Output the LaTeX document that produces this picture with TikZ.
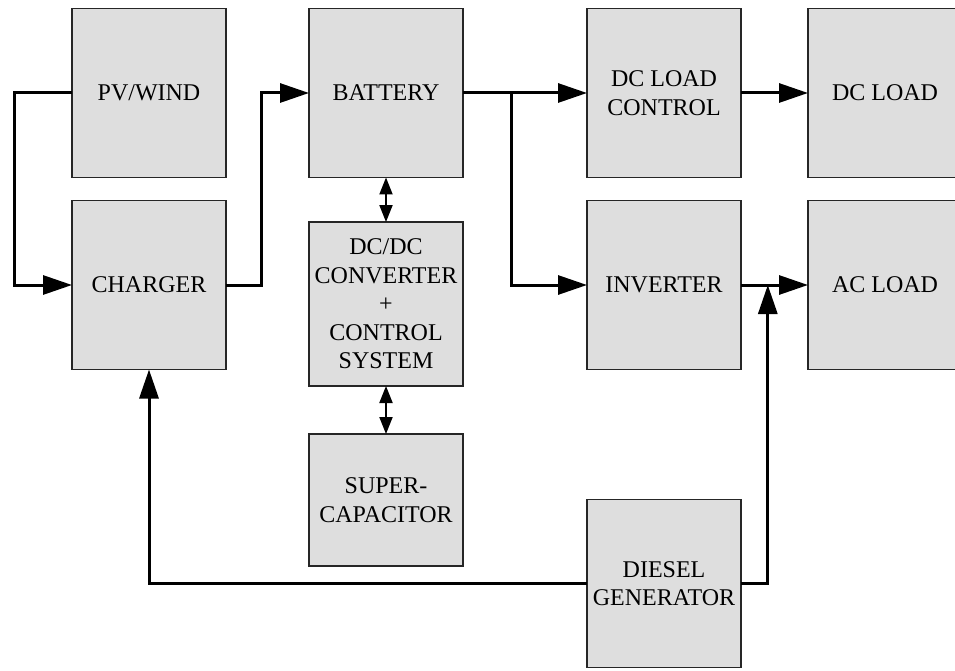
\documentclass[tikz,border=0pt]{standalone}
\usepackage{fontspec}
\setmainfont{Liberation Serif}
\usetikzlibrary{arrows.meta, positioning, calc}

\begin{document}
\begin{tikzpicture}[
  x=1pt, y=-1pt,
  node distance=23pt and 83pt,
  every node/.style={font=\fontsize{24}{28.5}\selectfont},
  block/.style={draw=black!85, line width=1.5pt, fill=black!13, minimum width=154pt,
    minimum height=169pt, inner sep=0pt, outer sep=0pt, align=center},
  arrow/.style={-{Triangle[length=29pt, width=19pt]}, line width=3pt},
  biarrow/.style={{Triangle[length=17pt, width=13pt]}-{Triangle[length=17pt, width=13pt]}, line width=2pt}
]
\clip (0,0) rectangle (955,671);

% Top row
\node [block] (pv) at (149,93) {PV/WIND};
\node [block, right=83pt of pv] (bat) {BATTERY};
\node [block, right=124pt of bat] (dclc) {DC LOAD\\CONTROL};
\node [block, right=67pt of dclc] (dcl) {DC LOAD};

% Second row
\node [block, below=of pv] (chg) {CHARGER};
\node [block, below=of dclc] (inv) {INVERTER};
\node [block, below=of dcl] (acl) {AC LOAD};

% Storage column
\node [block, minimum height=164pt, below=44.5pt of bat] (dcdc) {DC/DC\\CONVERTER\\+\\CONTROL\\SYSTEM};
\node [block, minimum height=132pt, below=48pt of dcdc] (sc) {SUPER-\\CAPACITOR};

% Backup source
\node [block, minimum height=168pt, below=130pt of inv] (dsl) {DIESEL\\GENERATOR};

\coordinate (tap) at ($(bat.east)!0.39!(dclc.west)$);
\coordinate (join) at ($(inv.east)!0.4!(acl.west)$);

\draw[arrow] (pv.west) -- ++(-58,0) |- (chg.west);
\draw[arrow] (chg.east) -- ++(35,0) |- (bat.west);
\draw[arrow] (bat.east) -- (dclc.west);
\draw[arrow] (tap) |- (inv.west);
\draw[arrow] (dclc.east) -- (dcl.west);
\draw[arrow] (inv.east) -- (acl.west);
\draw[arrow] (dsl.east) -| (join);
\draw[arrow] (dsl.west) -| (chg.south);
\draw[biarrow] (bat.south) -- (dcdc.north);
\draw[biarrow] (dcdc.south) -- (sc.north);
\end{tikzpicture}
\end{document}
